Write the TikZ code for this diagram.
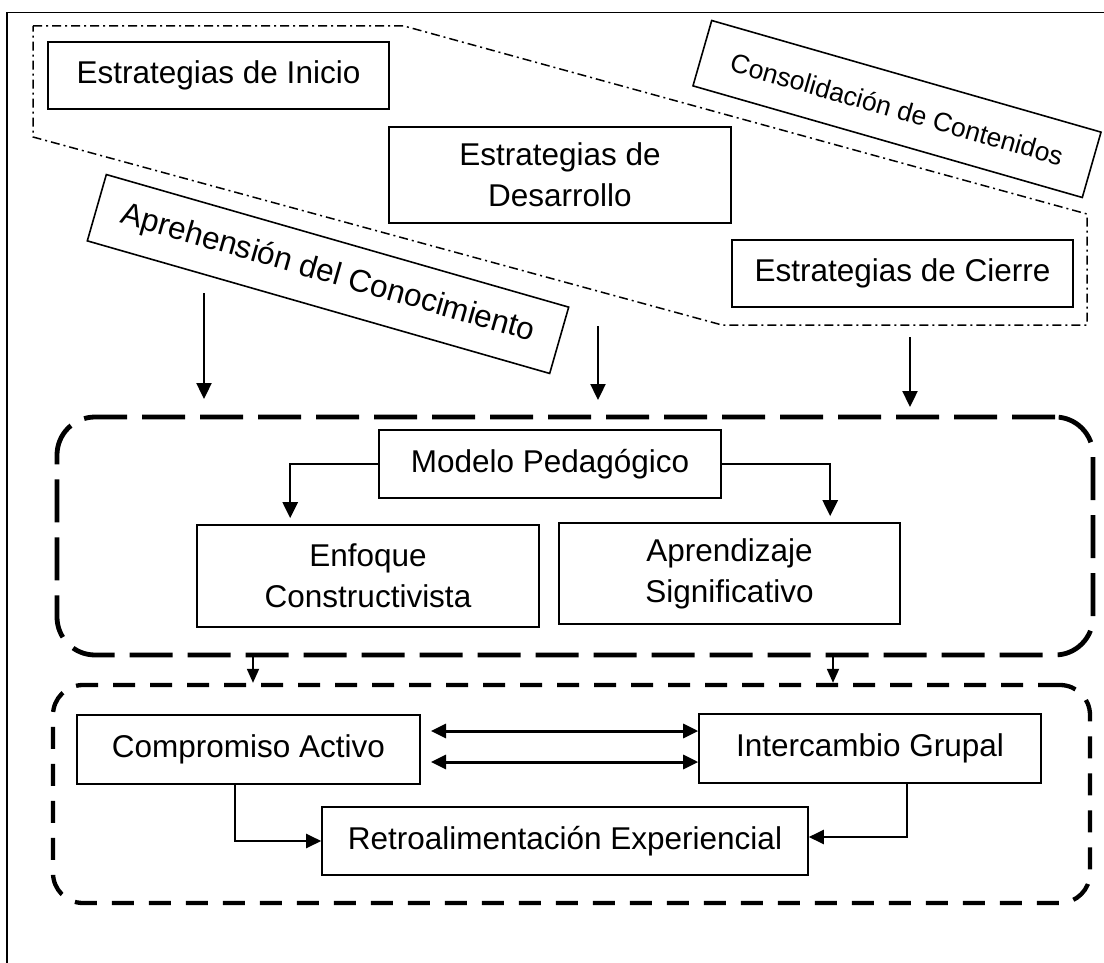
\documentclass[tikz,border=0pt]{standalone}
\usepackage{fontspec}
\setmainfont{Liberation Sans}
\usetikzlibrary{arrows.meta,calc}
\newcommand{\mainfs}{\fontsize{31.5}{41}\selectfont}
\newcommand{\consfs}{\fontsize{26.5}{30}\selectfont}
\begin{document}
\begin{tikzpicture}[x=1pt,y=-1pt,
  box/.style={draw, line width=1.6pt, inner sep=0pt, align=center, font=\mainfs},
  arr/.style={line width=2.4pt, -{Triangle[length=16pt,width=15pt]}},
  sarr/.style={line width=1.8pt, -{Triangle[length=14pt,width=12pt]}},
  darr/.style={line width=3pt, {Triangle[length=15pt,width=14pt]}-{Triangle[length=15pt,width=14pt]}},
  arrb/.style={line width=2.4pt, -{Triangle[length=15pt,width=14pt]}},
  dashdot/.style={line width=1.5pt, dash pattern=on 9pt off 4pt on 2pt off 4pt},
  bigbox/.style={draw, line width=4.8pt, dash pattern=on 43pt off 15pt, rounded corners=38pt, inner sep=0pt},
  smallbox/.style={draw, line width=4.3pt, dash pattern=on 22pt off 15pt, rounded corners=30pt, inner sep=0pt}]
\useasboundingbox (0,0) rectangle (1104,963);
% outer frame
\draw[line width=1.5pt] (7,963) -- (7,12.5) -- (1104,12.5);
% dash-dot region
\draw[dashdot] (33,26) -- (404,26) -- (1087,214) -- (1087,325) -- (722,325) -- (33,137) -- cycle;
% containers
\node[bigbox, minimum width=1036pt, minimum height=238pt] (b1) at (575,536) {};
\node[smallbox, minimum width=1037pt, minimum height=218pt] (b2) at (571.5,794) {};
% top boxes
\node[box, minimum width=341pt, minimum height=67pt] (inicio) at (218.5,75.5) {Estrategias de Inicio};
\node[box, minimum width=342pt, minimum height=96pt] (desarrollo) at (560,175) {Estrategias de\\Desarrollo};
\node[box, minimum width=341pt, minimum height=67pt] (cierre) at (902.5,273.5) {Estrategias de Cierre};
\node[box, font=\consfs, rotate=-16, minimum width=405pt, minimum height=68pt] (consol) at (897,109) {Consolidación de Contenidos};
\node[box, rotate=-16, minimum width=481pt, minimum height=69pt] (apre) at (328,274) {Aprehensión del Conocimiento};
% middle boxes
\node[box, minimum width=342pt, minimum height=68pt] (modelo) at (550,464) {Modelo Pedagógico};
\node[box, minimum width=342pt, minimum height=102pt] (enfoque) at (368,576) {Enfoque\\Constructivista};
\node[box, minimum width=341pt, minimum height=101pt] (aprend) at (729.5,573.5) {Aprendizaje\\Significativo};
% bottom boxes
\node[box, minimum width=343pt, minimum height=69pt] (comp) at (248.5,749.5) {Compromiso Activo};
\node[box, minimum width=342pt, minimum height=69pt] (inter) at (870,748.5) {Intercambio Grupal};
\node[box, minimum width=486pt, minimum height=68pt] (retro) at (565,841) {Retroalimentación Experiencial};
% top arrows
\coordinate (t1s) at (204,293); \coordinate (t1e) at (204,399);
\coordinate (t2s) at (598,326); \coordinate (t2e) at (598,400);
\coordinate (t3s) at (910,337); \coordinate (t3e) at (910,407);
\draw[arr] (t1s) -- (t1e);
\draw[arr] (t2s) -- (t2e);
\draw[arr] (t3s) -- (t3e);
% model arrows
\draw[arr] (modelo.west) -| ([xshift=94pt,yshift=6pt]enfoque.north west);
\draw[arr] (modelo.east) -| ([xshift=272pt,yshift=6pt]aprend.north west);
% container to container
\coordinate (c1) at (253,0); \coordinate (c2) at (833,0);
\draw[sarr] (b1.south -| c1) -- (b2.north -| c1);
\draw[sarr] (b1.south -| c2) -- (b2.north -| c2);
% double arrows
\coordinate (d1) at (431,731); \coordinate (d2) at (431,762);
\draw[darr] (d1) -- (d1 -| inter.west);
\draw[darr] (d2) -- (d2 -| inter.west);
% elbows to retro
\draw[arrb] ([xshift=-13.5pt]comp.south) |- (retro.west);
\draw[arrb] ([xshift=37pt]inter.south) |- ([yshift=4pt]retro.east);
\end{tikzpicture}
\end{document}
